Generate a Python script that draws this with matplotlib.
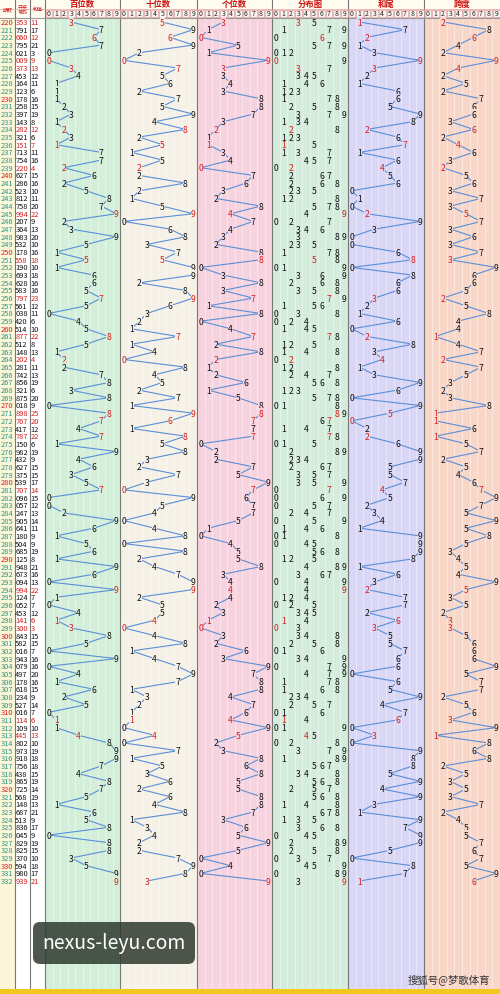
import matplotlib
matplotlib.use("Agg")
import matplotlib.pyplot as plt
from matplotlib.patches import Rectangle, FancyBboxPatch

plt.rcParams['font.family'] = ['Noto Sans CJK SC', 'DejaVu Sans']

periods = list(range(220, 333))
draws = ["353","791","660","795","021","009","373","453","164","123","178","258","397","143","282",
         "321","151","713","754","220","627","286","523","812","758","994","207","364","983","532",
         "178","558","190","693","628","583","797","561","038","420","514","877","512","148","202",
         "281","742","856","321","875","018","898","767","417","787","150","982","432","627","375",
         "539","707","096","057","247","905","641","180","504","685","125","948","673","094","994",
         "124","052","453","141","300","843","582","016","943","079","497","178","618","234","527",
         "016","114","109","445","802","973","918","756","438","865","725","568","148","687","513",
         "836","045","829","825","370","594","980","939"]
zone_titles = ["百位数", "十位数", "个位数", "分布图", "和尾", "跨度"]
left_titles = ["期数", "开奖\n号码", "和值"]

W, H = 500, 995
fig = plt.figure(figsize=(W/100, H/100), dpi=100)
ax = fig.add_axes([0, 0, 1, 1])
ax.set_xlim(0, W); ax.set_ylim(H, 0); ax.axis('off')

edges = [0, 15, 30, 45, 120, 197, 272, 348, 424, 500]
bgs = ['#fbf6d8', '#ffffff', '#ffffff', '#d3efd9', '#f6f1e6', '#f7d3df', '#d4ecdb', '#d9d6f6', '#f8d6c8']
top, y0, dy = 19, 23, 7.67
bottom = 990
for i in range(9):
    ax.add_patch(Rectangle((edges[i], top), edges[i+1]-edges[i], bottom-top, fc=bgs[i], ec='none', zorder=0))
for i in range(3, 9):
    w = (edges[i+1]-edges[i])/10
    for k in range(1, 10):
        ax.plot([edges[i]+k*w]*2, [top, bottom], color='#ffffff', lw=0.5, alpha=0.6, zorder=0.5)
for e in edges[1:-1]:
    ax.plot([e, e], [0, bottom], color='#777777', lw=0.8, zorder=1)
ax.add_patch(Rectangle((0, 0), W, top, fc='#fffdf0', ec='none', zorder=0))
ax.plot([0, W], [9.5, 9.5], color='#e0a0a0', lw=0.5)
ax.plot([0, W], [top, top], color='#999999', lw=0.8)
ax.add_patch(Rectangle((0, bottom), W, H-bottom, fc='#f2c81e', ec='none', zorder=3))
for i, t in enumerate(left_titles):
    ax.text((edges[i]+edges[i+1])/2, 9.5, t, ha='center', va='center', fontsize=3.6, color='#cc2222', linespacing=0.9)
for i, t in enumerate(zone_titles):
    ax.text((edges[i+3]+edges[i+4])/2, 4.8, t, ha='center', va='center', fontsize=6, color='#cc1111', fontweight='bold')
    w = (edges[i+4]-edges[i+3])/10
    for k in range(10):
        ax.add_patch(Rectangle((edges[i+3]+k*w+0.5, 10.5), w-1, 7.5, fc='#f6f6f6', ec='#e08080', lw=0.4))
        ax.text(edges[i+3]+(k+0.5)*w, 14.5, str(k), ha='center', va='center', fontsize=5, color='#222')

line_c = '#5a8fd8'
def xc(zone, d):
    w = (edges[zone+4]-edges[zone+3])/10
    return edges[zone+3]+(d+0.5)*w

series = {0: [], 1: [], 2: [], 4: [], 5: []}
for r, (p, dstr) in enumerate(zip(periods, draws)):
    y = y0 + r*dy
    ds = [int(c) for c in dstr]
    s = sum(ds)
    rep = len(set(ds)) < 3
    pc = '#d62020' if p % 10 == 0 else '#2a9a8a'
    nc = '#d62020' if rep else '#111111'
    ax.text(0.5, y, str(p), va='center', fontsize=5.4, color=pc)
    ax.text(15.3, y, dstr, va='center', fontsize=5.4, color=nc)
    ax.text(30.5, y, str(s), va='center', fontsize=5.4, color=nc)
    vals = {0: ds[0], 1: ds[1], 2: ds[2], 4: s % 10, 5: max(ds)-min(ds)}
    for z, v in vals.items():
        series[z].append((xc(z, v), y))
        ax.text(xc(z, v), y, str(v), ha='center', va='center', fontsize=6.2, color=nc, zorder=4,
                bbox=dict(fc=bgs[z+3], ec='none', pad=0.1))
    for d in sorted(set(ds)):
        c = '#d62020' if ds.count(d) > 1 else '#111111'
        ax.text(xc(3, d), y, str(d), ha='center', va='center', fontsize=6.2, color=c, zorder=4)
for z, pts in series.items():
    ax.plot([p[0] for p in pts], [p[1] for p in pts], color=line_c, lw=0.8, zorder=3)

ax.add_patch(FancyBboxPatch((33, 923), 162, 42, boxstyle='round,pad=0,rounding_size=7',
                            fc='#2f3a30', ec='none', alpha=0.85, zorder=6))
ax.text(114, 944, 'nexus-leyu.com', ha='center', va='center', fontsize=14, color='white', zorder=7)
ax.text(490, 980, '搜狐号@梦歌体育', ha='right', va='center', fontsize=7.5, color='#333', zorder=7)
fig.savefig('out.png', dpi=100)
